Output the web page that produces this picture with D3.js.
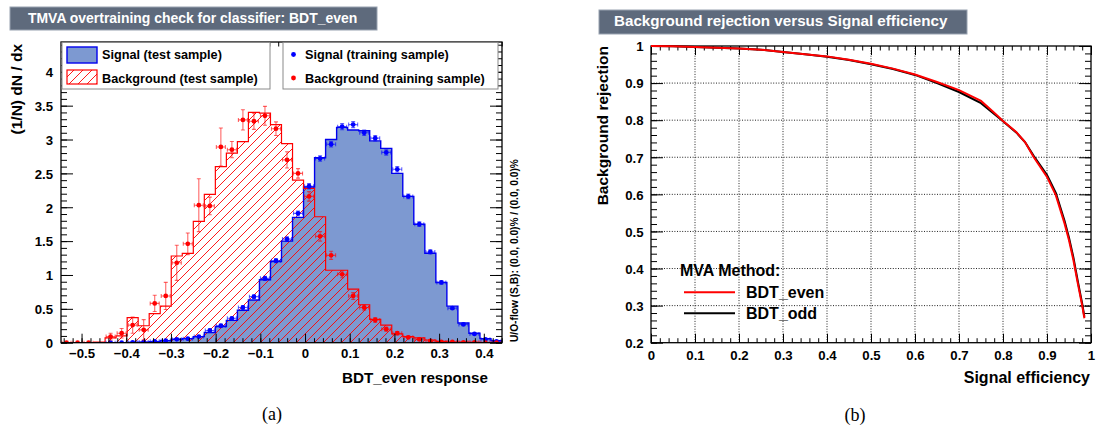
<!DOCTYPE html>
<html>
<head>
<meta charset="utf-8">
<script src="https://cdn.jsdelivr.net/npm/d3@7"></script>
<style>
  body { margin: 0; background: #ffffff; }
  svg text { font-family: "Liberation Sans", Arial, Helvetica, sans-serif; font-weight: bold; }
</style>
</head>
<body>
<svg id="chart" width="1098" height="429"></svg>
<script>
// ---------------- overtraining check (BDT_even response, 40 bins) ----------------
const responseRange = [-0.546, 0.4407];
const nBins = 40;
const yMaxA = 4.44;

const sigTest = [0, 0, 0, 0, 0, 0, 0.003, 0.008, 0.015, 0.03, 0.05, 0.06, 0.09, 0.15, 0.24, 0.33, 0.48, 0.63, 0.93, 1.20,
                 1.50, 1.85, 2.30, 2.73, 3.00, 3.18, 3.14, 3.13, 2.98, 2.87, 2.50, 2.16, 1.75, 1.32, 0.89, 0.54, 0.29, 0.14, 0.06, 0.03];
const bkgTest = [0, 0, 0, 0.01, 0.07, 0.10, 0.37, 0.25, 0.43, 0.54, 1.28, 1.32, 1.79, 2.19, 2.60, 2.80, 2.97, 3.40, 3.39, 3.22,
                 2.94, 2.40, 2.28, 1.86, 1.07, 1.07, 0.79, 0.56, 0.345, 0.26, 0.13, 0.09, 0.07, 0.04, 0.02, 0.01, 0.01, 0.005, 0, 0];
const sigTrain = [null, null, null, null, 0, 0, 0.005, 0.01, 0.02, 0.03, 0.05, 0.06, 0.09, 0.18, 0.25, 0.36, 0.52, 0.68, 0.95, 1.21,
                  1.53, 1.91, 2.31, 2.72, 2.93, 3.19, 3.22, 3.10, 3.02, 2.81, 2.56, 2.16, 1.75, 1.34, 0.89, 0.51, 0.27, 0.13, 0.05, 0.02];
const sigTrainErr = [0, 0, 0, 0, 0, 0, 0.005, 0.005, 0.01, 0.01, 0.01, 0.015, 0.015, 0.02, 0.02, 0.02, 0.025, 0.025, 0.03, 0.03,
                     0.035, 0.035, 0.04, 0.04, 0.04, 0.045, 0.045, 0.04, 0.04, 0.04, 0.04, 0.035, 0.035, 0.03, 0.025, 0.02, 0.015, 0.01, 0.01, 0.005];
const bkgTrain = [0, 0, 0, null, 0.09, 0.14, 0.26, 0.19, 0.58, 0.69, 1.18, 1.46, 2.03, 2.02, 2.89, 2.85, 3.29, 3.27, 3.35, 3.16,
                  2.70, 2.50, 2.16, 1.57, 1.29, 1.01, 0.69, 0.52, 0.335, 0.20, 0.14, 0.08, 0.05, 0.025, 0.01, 0.01, 0.005, 0.005, 0, 0];
const bkgTrainErr = [0, 0, 0, 0, 0.05, 0.07, 0.12, 0.15, 0.12, 0.20, 0.26, 0.16, 0.39, 0.13, 0.28, 0.12, 0.15, 0.12, 0.14, 0.10,
                     0.12, 0.07, 0.07, 0.07, 0.06, 0.05, 0.05, 0.04, 0.035, 0.03, 0.025, 0.02, 0.02, 0.015, 0.01, 0.01, 0.005, 0.005, 0, 0];

const xTicksA = [-0.5, -0.4, -0.3, -0.2, -0.1, 0, 0.1, 0.2, 0.3, 0.4];
const yTicksA = [0, 0.5, 1, 1.5, 2, 2.5, 3, 3.5, 4];

// ---------------- ROC curves ----------------
const effEven = [0, 0.05, 0.1, 0.15, 0.2, 0.25, 0.3, 0.35, 0.4, 0.45, 0.5, 0.55, 0.6, 0.65, 0.7, 0.75, 0.78, 0.8, 0.83, 0.85,
                 0.87, 0.9, 0.92, 0.94, 0.95, 0.96, 0.97, 0.98, 0.985];
const rejEven = [1.0, 0.999, 0.997, 0.995, 0.993, 0.990, 0.984, 0.978, 0.972, 0.963, 0.952, 0.939, 0.923, 0.903, 0.881, 0.852, 0.820, 0.798, 0.768, 0.741,
                 0.700, 0.647, 0.598, 0.521, 0.476, 0.423, 0.360, 0.300, 0.266];
const effOdd = [0, 0.05, 0.1, 0.15, 0.2, 0.25, 0.3, 0.35, 0.4, 0.45, 0.5, 0.55, 0.6, 0.65, 0.7, 0.75, 0.78, 0.8, 0.83, 0.85,
                0.87, 0.9, 0.92, 0.94, 0.95, 0.96, 0.97, 0.98, 0.985];
const rejOdd = [1.0, 0.999, 0.997, 0.995, 0.993, 0.990, 0.984, 0.978, 0.971, 0.962, 0.951, 0.938, 0.922, 0.900, 0.876, 0.846, 0.817, 0.797, 0.767, 0.741,
                0.703, 0.652, 0.604, 0.528, 0.483, 0.430, 0.366, 0.305, 0.270];
const xTicksB = [0, 0.1, 0.2, 0.3, 0.4, 0.5, 0.6, 0.7, 0.8, 0.9, 1];
const yTicksB = [0.2, 0.3, 0.4, 0.5, 0.6, 0.7, 0.8, 0.9, 1];

// colours
const sigFill = "#7d99d1", sigLine = "#0000ee", bkgLine = "#ff0000";

const svg = d3.select("#chart");
const defs = svg.append("defs");

const hatch = defs.append("pattern").attr("id", "bkgHatch")
  .attr("patternUnits", "userSpaceOnUse").attr("width", 9).attr("height", 9);
hatch.append("path").attr("d", "M-1,1 l2,-2 M0,9 l9,-9 M8,10 l2,-2")
  .attr("stroke", bkgLine).attr("stroke-width", 0.9).attr("fill", "none");

// ---- shared axis helper: ticks on all four sides, pointing inwards ----
function drawFrameAxes(g, x, y, o) {
  const [x0, x1] = x.range(), [yb, yt] = y.range();
  const styleAxis = sel => {
    sel.select(".domain").remove();
    sel.selectAll(".tick line").attr("stroke", "#000").attr("stroke-width", 1);
    sel.attr("font-family", null).attr("font-size", null);
  };
  // bottom
  g.append("g").attr("transform", `translate(0,${yb})`)
    .call(d3.axisBottom(x).tickValues(o.xMinor).tickSize(-o.xMinorLen).tickFormat(""))
    .call(styleAxis);
  const bx = g.append("g").attr("transform", `translate(0,${yb})`)
    .call(d3.axisBottom(x).tickValues(o.xMajor).tickSize(-o.xMajorLen).tickFormat(o.xFmt))
    .call(styleAxis);
  bx.selectAll("text").attr("y", o.xLabelY).attr("dy", null)
    .attr("font-size", o.labelSize).attr("fill", "#000");
  // top
  g.append("g").attr("transform", `translate(0,${yt})`)
    .call(d3.axisTop(x).tickValues(o.xMinor).tickSize(-o.xMinorLen).tickFormat(""))
    .call(styleAxis);
  g.append("g").attr("transform", `translate(0,${yt})`)
    .call(d3.axisTop(x).tickValues(o.xMajor).tickSize(-o.xMajorLen).tickFormat(""))
    .call(styleAxis);
  // left
  g.append("g").attr("transform", `translate(${x0},0)`)
    .call(d3.axisLeft(y).tickValues(o.yMinor).tickSize(-o.yMinorLen).tickFormat(""))
    .call(styleAxis);
  const ly = g.append("g").attr("transform", `translate(${x0},0)`)
    .call(d3.axisLeft(y).tickValues(o.yMajor).tickSize(-o.yMajorLen).tickFormat(o.yFmt))
    .call(styleAxis);
  ly.selectAll("text").attr("x", o.yLabelX).attr("dy", "0.36em")
    .attr("font-size", o.labelSize).attr("fill", "#000");
  // right
  g.append("g").attr("transform", `translate(${x1},0)`)
    .call(d3.axisRight(y).tickValues(o.yMinor).tickSize(-o.yMinorLen).tickFormat(""))
    .call(styleAxis);
  g.append("g").attr("transform", `translate(${x1},0)`)
    .call(d3.axisRight(y).tickValues(o.yMajor).tickSize(-o.yMajorLen).tickFormat(""))
    .call(styleAxis);
  // frame
  g.append("rect").attr("x", x0).attr("y", yt).attr("width", x1 - x0).attr("height", yb - yt)
    .attr("fill", "none").attr("stroke", "#000").attr("stroke-width", 1.3);
}

function titleBox(g, x, y, w, h, text, size, tx, ty) {
  g.append("rect").attr("x", x).attr("y", y).attr("width", w).attr("height", h)
    .attr("fill", "#5e6a7c").attr("stroke", "#98a2b0").attr("stroke-width", 1);
  g.append("text").attr("x", tx).attr("y", ty).attr("fill", "#ffffff")
    .attr("font-size", size).text(text);
}

const numFmt = v => v === 0 ? "0" : d3.format(".1f")(v);

// =================== panel (a) ===================
const gA = svg.append("g");
const xA = d3.scaleLinear().domain(responseRange).range([61, 502]);
const yA = d3.scaleLinear().domain([0, yMaxA]).range([342.7, 42]);
const edges = d3.range(nBins + 1).map(i => responseRange[0] + i * (responseRange[1] - responseRange[0]) / nBins);

defs.append("clipPath").attr("id", "clipA").append("rect")
  .attr("x", 61).attr("y", 42).attr("width", 441).attr("height", 300.7);

function stepPoints(vals) {
  const pts = [[edges[0], 0]];
  vals.forEach((v, i) => { pts.push([edges[i], v]); pts.push([edges[i + 1], v]); });
  pts.push([edges[nBins], 0]);
  return pts;
}
const stepLine = d3.line().x(d => xA(d[0])).y(d => yA(d[1]));

const plotA = gA.append("g").attr("clip-path", "url(#clipA)");
plotA.append("path").attr("d", stepLine(stepPoints(sigTest)) + "Z").attr("fill", sigFill).attr("stroke", "none");
plotA.append("path").attr("d", stepLine(stepPoints(bkgTest)) + "Z").attr("fill", "url(#bkgHatch)").attr("stroke", "none");
plotA.append("path").attr("d", stepLine(stepPoints(sigTest))).attr("fill", "none")
  .attr("stroke", sigLine).attr("stroke-width", 1.4);
plotA.append("path").attr("d", stepLine(stepPoints(bkgTest))).attr("fill", "none")
  .attr("stroke", bkgLine).attr("stroke-width", 1.2);

// training samples: markers with error bars
function trainingPoints(vals, errs, color) {
  const data = vals.map((v, i) => ({ i, v, e: errs[i] })).filter(d => d.v !== null);
  const cx = d => xA((edges[d.i] + edges[d.i + 1]) / 2);
  const eb = plotA.append("g").attr("stroke", color).attr("stroke-opacity", 0.6).attr("stroke-width", 1.1);
  eb.selectAll(".h").data(data).join("line")
    .attr("x1", d => xA(edges[d.i]) + 1).attr("x2", d => xA(edges[d.i + 1]) - 1)
    .attr("y1", d => yA(d.v)).attr("y2", d => yA(d.v));
  eb.selectAll(".hc").data(data).join("path")
    .attr("d", d => `M${xA(edges[d.i]) + 1},${yA(d.v) - 2}v4M${xA(edges[d.i + 1]) - 1},${yA(d.v) - 2}v4`);
  const withErr = data.filter(d => d.e > 0);
  eb.selectAll(".v").data(withErr).join("line")
    .attr("x1", cx).attr("x2", cx)
    .attr("y1", d => yA(d.v + d.e)).attr("y2", d => yA(Math.max(0, d.v - d.e)));
  eb.selectAll(".vc").data(withErr).join("path")
    .attr("d", d => `M${cx(d) - 2},${yA(d.v + d.e)}h4M${cx(d) - 2},${yA(Math.max(0, d.v - d.e))}h4`);
  plotA.append("g").selectAll("circle").data(data).join("circle")
    .attr("cx", cx).attr("cy", d => yA(d.v)).attr("r", 2.4).attr("fill", color);
}
trainingPoints(sigTrain, sigTrainErr, "#0000ff");
trainingPoints(bkgTrain, bkgTrainErr, "#ff0000");

drawFrameAxes(gA, xA, yA, {
  xMajor: xTicksA, xMinor: d3.range(-0.54, 0.441, 0.02).map(v => +v.toFixed(2)),
  yMajor: yTicksA, yMinor: d3.range(0, 4.41, 0.1).map(v => +v.toFixed(1)),
  xMajorLen: 9, xMinorLen: 4.5, yMajorLen: 12, yMinorLen: 6,
  xFmt: numFmt, yFmt: d3.format("~g"), xLabelY: 15, yLabelX: -8, labelSize: 13.2
});

// legends
const legA1 = gA.append("g");
legA1.append("rect").attr("x", 62).attr("y", 42.5).attr("width", 208).attr("height", 46.5)
  .attr("fill", "#fff").attr("stroke", "#8a8a8a").attr("stroke-width", 1);
legA1.append("rect").attr("x", 67).attr("y", 47).attr("width", 30).attr("height", 16)
  .attr("fill", sigFill).attr("stroke", sigLine).attr("stroke-width", 1.4);
legA1.append("rect").attr("x", 67).attr("y", 70).attr("width", 30).attr("height", 14)
  .attr("fill", "url(#bkgHatch)").attr("stroke", bkgLine).attr("stroke-width", 1.2);
legA1.append("text").attr("x", 102).attr("y", 59).attr("font-size", 12.7).text("Signal (test sample)");
legA1.append("text").attr("x", 102).attr("y", 82.5).attr("font-size", 12.7).text("Background (test sample)");

const legA2 = gA.append("g");
legA2.append("rect").attr("x", 283).attr("y", 42.5).attr("width", 215).attr("height", 46.5)
  .attr("fill", "#fff").attr("stroke", "#8a8a8a").attr("stroke-width", 1);
legA2.append("circle").attr("cx", 293.5).attr("cy", 54.5).attr("r", 2.4).attr("fill", "#0000ff");
legA2.append("circle").attr("cx", 293.5).attr("cy", 78).attr("r", 2.4).attr("fill", "#ff0000");
legA2.append("text").attr("x", 305).attr("y", 59).attr("font-size", 12.7).text("Signal (training sample)");
legA2.append("text").attr("x", 305).attr("y", 82.5).attr("font-size", 12.7).text("Background (training sample)");

// axis titles & annotations
gA.append("text").attr("transform", "translate(21.5,44) rotate(-90)").attr("text-anchor", "end")
  .attr("font-size", 15.5).text("(1/N) dN / dx");
gA.append("text").attr("x", 488).attr("y", 383).attr("text-anchor", "end")
  .attr("font-size", 15.2).text("BDT_even response");
gA.append("text").attr("transform", "translate(518,342) rotate(-90)").attr("text-anchor", "start")
  .attr("font-size", 10.2).text("U/O-flow (S,B): (0.0, 0.0)% / (0.0, 0.0)%");
titleBox(gA, 10, 7, 367, 23, "TMVA overtraining check for classifier: BDT_even", 13.95, 28, 23);
gA.append("text").attr("x", 272).attr("y", 420).attr("text-anchor", "middle")
  .style("font-family", "'Liberation Serif', 'Times New Roman', serif").style("font-weight", "normal")
  .attr("font-size", 18).text("(a)");

// =================== panel (b) ===================
const gB = svg.append("g");
const xB = d3.scaleLinear().domain([0, 1]).range([651, 1091]);
const yB = d3.scaleLinear().domain([0.2, 1]).range([342.7, 46]);

// dotted grid
const grid = gB.append("g").attr("stroke", "#222").attr("stroke-width", 1).attr("stroke-dasharray", "1,1.6");
grid.selectAll(".gx").data(xTicksB.slice(1, -1)).join("line")
  .attr("x1", d => xB(d)).attr("x2", d => xB(d)).attr("y1", yB(0.2)).attr("y2", yB(1));
grid.selectAll(".gy").data(yTicksB.slice(1, -1)).join("line")
  .attr("x1", xB(0)).attr("x2", xB(1)).attr("y1", d => yB(d)).attr("y2", d => yB(d));

drawFrameAxes(gB, xB, yB, {
  xMajor: xTicksB, xMinor: d3.range(0, 1.001, 0.02).map(v => +v.toFixed(2)),
  yMajor: yTicksB, yMinor: d3.range(0.2, 1.001, 0.02).map(v => +v.toFixed(2)),
  xMajorLen: 9, xMinorLen: 4.5, yMajorLen: 12, yMinorLen: 6,
  xFmt: d3.format("~g"), yFmt: d3.format("~g"), xLabelY: 17.3, yLabelX: -7.5, labelSize: 13.2
});

const roc = (effs, rejs) => d3.line().x((d, i) => xB(effs[i])).y((d, i) => yB(rejs[i]))(effs);
gB.append("path").attr("d", roc(effOdd, rejOdd)).attr("fill", "none")
  .attr("stroke", "#000").attr("stroke-width", 2);
gB.append("path").attr("d", roc(effEven, rejEven)).attr("fill", "none")
  .attr("stroke", "#ff0000").attr("stroke-width", 2);

// legend
gB.append("text").attr("x", 680).attr("y", 276).attr("font-size", 16).text("MVA Method:");
gB.append("line").attr("x1", 684).attr("x2", 735).attr("y1", 292.3).attr("y2", 292.3)
  .attr("stroke", "#ff0000").attr("stroke-width", 2);
gB.append("line").attr("x1", 684).attr("x2", 735).attr("y1", 313.3).attr("y2", 313.3)
  .attr("stroke", "#000").attr("stroke-width", 2);
gB.append("text").attr("x", 746).attr("y", 298).attr("font-size", 16).text("BDT_even");
gB.append("text").attr("x", 746).attr("y", 319).attr("font-size", 16).text("BDT_odd");

gB.append("text").attr("transform", "translate(608,46) rotate(-90)").attr("text-anchor", "end")
  .attr("font-size", 15.5).text("Background rejection");
gB.append("text").attr("x", 1090).attr("y", 383).attr("text-anchor", "end")
  .attr("font-size", 16).text("Signal efficiency");
titleBox(gB, 599, 10, 368, 24, "Background rejection versus Signal efficiency", 15.2, 614, 26.3);
gB.append("text").attr("x", 855).attr("y", 421).attr("text-anchor", "middle")
  .style("font-family", "'Liberation Serif', 'Times New Roman', serif").style("font-weight", "normal")
  .attr("font-size", 18).text("(b)");
</script>
</body>
</html>
